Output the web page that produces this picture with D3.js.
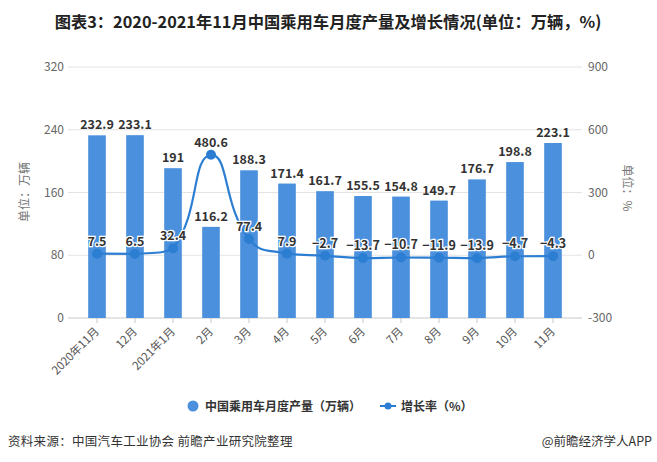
<!DOCTYPE html>
<html><head><meta charset="utf-8">
<script src="https://cdn.jsdelivr.net/npm/d3@7/dist/d3.min.js"></script>
<style>
html,body{margin:0;padding:0;background:#fff;}
svg{display:block;font-family:"Microsoft YaHei","Noto Sans CJK SC","DejaVu Sans",sans-serif;}
</style></head>
<body>
<svg id="chart" width="657" height="462"></svg>
<script>
const categories = ["2020年11月","12月","2021年1月","2月","3月","4月","5月","6月","7月","8月","9月","10月","11月"];
const production = [232.9,233.1,191,116.2,188.3,171.4,161.7,155.5,154.8,149.7,176.7,198.8,223.1];
const growth = [7.5,6.5,32.4,480.6,77.4,7.9,-2.7,-13.7,-10.7,-11.9,-13.9,-4.7,-4.3];
const leftTicks = [0,80,160,240,320];
const rightTicks = [-300,0,300,600,900];

const svg = d3.select("#chart");
const L = 78, R = 572, T = 67, B = 318;
const barColor = "#4A90DD", lineColor = "#2C7ED2";

const x = d3.scaleBand().domain(categories).range([L, R]);
const yL = d3.scaleLinear().domain([0,320]).range([B, T]);
const yR = d3.scaleLinear().domain([-300,900]).range([B, T]);

// title
svg.append("text").attr("x",328).attr("y",28).attr("text-anchor","middle")
  .attr("font-size",16.3).attr("font-weight","bold").attr("fill","#222")
  .text("图表3：2020-2021年11月中国乘用车月度产量及增长情况(单位：万辆，%)");

// grid lines
svg.append("g").selectAll("line").data(leftTicks).join("line")
  .attr("x1",L-10).attr("x2",R+10).attr("y1",d=>yL(d)).attr("y2",d=>yL(d))
  .attr("stroke",d=>d===0?"#c8c8c8":"#e3e3e3").attr("stroke-width",1);

// left axis labels
svg.append("g").selectAll("text").data(leftTicks).join("text")
  .attr("x",L-14).attr("y",d=>yL(d)+4).attr("text-anchor","end")
  .attr("font-size",12).attr("fill","#666").text(d=>d);
// right axis labels
svg.append("g").selectAll("text").data(rightTicks).join("text")
  .attr("x",R+16).attr("y",d=>yR(d)+4).attr("text-anchor","start")
  .attr("font-size",12).attr("fill","#666").text(d=>d);

// axis names
svg.append("text").attr("transform","translate(29,192) rotate(-90)").attr("text-anchor","middle")
  .attr("font-size",12).attr("fill","#777").text("单位：万辆");
svg.append("text").attr("transform","translate(623,188) rotate(90)").attr("text-anchor","middle")
  .attr("font-size",12).attr("fill","#777").text("单位：%");

// x ticks
const xc = d=>x(d)+x.bandwidth()/2;
svg.append("g").selectAll("line").data(categories).join("line")
  .attr("x1",xc).attr("x2",xc).attr("y1",B).attr("y2",B+5).attr("stroke","#c8c8c8");
svg.append("g").selectAll("text").data(categories).join("text")
  .attr("transform",d=>`translate(${xc(d)+3},${B+14}) rotate(-45)`)
  .attr("text-anchor","end").attr("font-size",11.5).attr("fill","#555").text(d=>d);

// bars
const bw = 17.6;
svg.append("g").selectAll("rect").data(production).join("rect")
  .attr("x",(d,i)=>xc(categories[i])-bw/2).attr("width",bw)
  .attr("y",d=>yL(d)).attr("height",d=>B-yL(d)).attr("fill",barColor);

// bar labels
svg.append("g").selectAll("text").data(production).join("text")
  .attr("x",(d,i)=>xc(categories[i])).attr("y",d=>yL(d)-6).attr("text-anchor","middle")
  .attr("font-size",12.5).attr("font-weight","bold").attr("fill","#333").text(d=>d);

// smooth line (ECharts-style smoothing with clamped control points)
function smoothPath(pts, s) {
  const n = pts.length, cps = [];
  for (let i = 0; i < n; i++) {
    const [px, py] = pts[i];
    if (i === 0 || i === n - 1) { cps.push({pin:[px,py], pout:[px,py]}); continue; }
    const [ax, ay] = pts[i-1], [bx, by] = pts[i+1];
    const vx = bx - ax, vy = by - ay;
    const l0 = Math.hypot(px-ax, py-ay), l1 = Math.hypot(bx-px, by-py);
    const r = l1 / (l0 + l1);
    let ox = px + vx*s*r, oy = py + vy*s*r;
    let ix = px - vx*s*(1-r), iy = py - vy*s*(1-r);
    const clamp = (v, a, b) => Math.max(Math.min(a,b), Math.min(Math.max(a,b), v));
    ox = clamp(ox, px, bx); oy = clamp(oy, py, by);
    ix = clamp(ix, ax, px); iy = clamp(iy, ay, py);
    cps.push({pin:[ix,iy], pout:[ox,oy]});
  }
  const p = d3.path();
  p.moveTo(pts[0][0], pts[0][1]);
  for (let i = 1; i < n; i++) {
    const c1 = cps[i-1].pout, c2 = cps[i].pin;
    p.bezierCurveTo(c1[0], c1[1], c2[0], c2[1], pts[i][0], pts[i][1]);
  }
  return p.toString();
}
const linePts = growth.map((d,i)=>[xc(categories[i]), yR(d)]);
svg.append("path").attr("d",smoothPath(linePts, 0.5)).attr("fill","none")
  .attr("stroke",lineColor).attr("stroke-width",2.2);
svg.append("g").selectAll("circle").data(growth).join("circle")
  .attr("cx",(d,i)=>xc(categories[i])).attr("cy",d=>yR(d)).attr("r",5).attr("fill",lineColor);

// line labels
svg.append("g").selectAll("text").data(growth).join("text")
  .attr("x",(d,i)=>xc(categories[i])).attr("y",d=>yR(d)-8).attr("text-anchor","middle")
  .attr("font-size",12.5).attr("font-weight","bold").attr("fill","#333")
  .attr("stroke","#fff").attr("stroke-width",2.5).attr("paint-order","stroke")
  .text(d=>d<0?"−"+Math.abs(d):d);

// legend
const lg = svg.append("g");
lg.append("circle").attr("cx",193).attr("cy",406).attr("r",5.5).attr("fill",barColor);
lg.append("text").attr("x",205).attr("y",410.5).attr("font-size",12).attr("font-weight","bold")
  .attr("fill","#333").text("中国乘用车月度产量（万辆）");
lg.append("line").attr("x1",380).attr("x2",396).attr("y1",406).attr("y2",406)
  .attr("stroke",lineColor).attr("stroke-width",2);
lg.append("circle").attr("cx",388).attr("cy",406).attr("r",3.5).attr("fill",lineColor);
lg.append("text").attr("x",401).attr("y",410.5).attr("font-size",12).attr("font-weight","bold")
  .attr("fill","#333").text("增长率（%）");

// footer
svg.append("text").attr("x",8).attr("y",446).attr("font-size",12.5).attr("fill","#333")
  .attr("letter-spacing",0.3).text("资料来源：中国汽车工业协会 前瞻产业研究院整理");
svg.append("text").attr("x",652).attr("y",446).attr("text-anchor","end").attr("font-size",12.5)
  .attr("fill","#333").text("@前瞻经济学人APP");
</script>
</body></html>
